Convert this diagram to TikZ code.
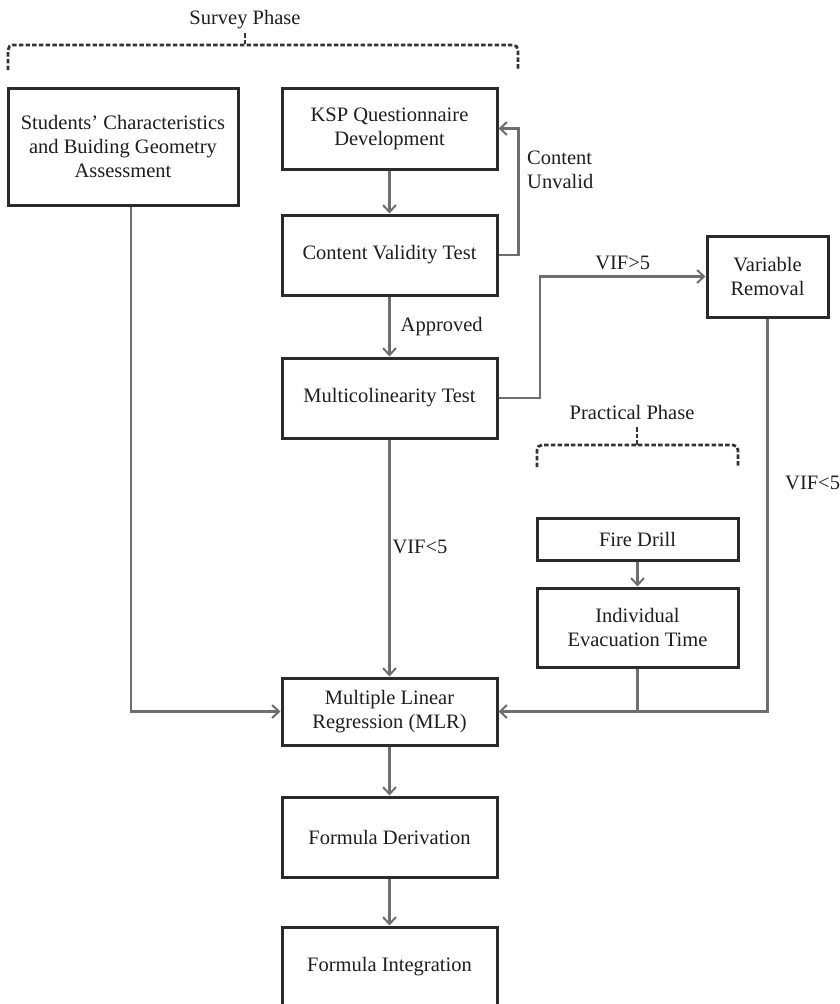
\documentclass[tikz,border=0pt]{standalone}
\usepackage{fontspec}
\setmainfont{Liberation Serif}
\usetikzlibrary{arrows.meta}
\definecolor{boxline}{HTML}{2A2A2A}
\definecolor{connline}{HTML}{6E6E6E}
\definecolor{txt}{HTML}{1E1E1E}
\definecolor{bracecol}{HTML}{333333}
\tikzset{
  box/.style={draw=boxline, line width=3pt, fill=white, text=txt, align=center,
    inner sep=0pt, font=\fontsize{20.5}{24}\selectfont},
  conn/.style={draw=connline, line width=2.4pt},
  arr/.style={conn, -{Straight Barb[length=7pt,width=13pt,line width=2pt]}},
  lbl/.style={text=txt, inner sep=0pt, font=\fontsize{20.5}{24}\selectfont},
  phasebrace/.style={draw=bracecol, line width=2.8pt, dash pattern=on 4.5pt off 2.2pt, rounded corners=5pt}
}
\begin{document}
\begin{tikzpicture}[x=1pt,y=-1pt]
\useasboundingbox (0,0) rectangle (839,1004);
\clip (0,0) rectangle (839,1004);

% boxes
\node[box, minimum width=230pt, minimum height=117pt] (stud) at (123,146.5)
  {Students' Characteristics\\and Buiding Geometry\\Assessment};
\node[box, minimum width=215pt, minimum height=81pt] (ksp) at (389.5,128.5)
  {KSP Questionnaire\\Development};
\node[box, minimum width=215pt, minimum height=80pt] (cvt) at (389.5,255)
  {Content Validity Test};
\node[box, minimum width=215pt, minimum height=80pt] (mct) at (389.5,398)
  {Multicolinearity Test};
\node[box, minimum width=121pt, minimum height=81pt] (varr) at (767.5,276.5)
  {Variable\\Removal};
\node[box, minimum width=201pt, minimum height=42pt] (fire) at (637.5,539)
  {Fire Drill};
\node[box, minimum width=201pt, minimum height=79pt] (iet) at (637.5,627.5)
  {Individual\\Evacuation Time};
\node[box, minimum width=215pt, minimum height=67pt] (mlr) at (389.5,711.5)
  {Multiple Linear\\Regression (MLR)};
\node[box, minimum width=215pt, minimum height=80pt] (fder) at (389.5,837)
  {Formula Derivation};
\node[box, minimum width=215pt, minimum height=80pt] (fint) at (389.5,967)
  {Formula Integration};

% phase labels and braces
\node[lbl] (survey) at (245,20) {Survey Phase};
\draw[phasebrace] (8,70) -- (8,45) -- (518,45) -- (518,70);
\draw[phasebrace, rounded corners=0pt] (245,33) -- (245,45);
\node[lbl] (practical) at (632,412) {Practical Phase};
\draw[phasebrace] (537,467) -- (537,445) -- (738,445) -- (738,467);
\draw[phasebrace, rounded corners=0pt] (637,427) -- (637,445);

% connectors
\draw[arr] (ksp) -- (cvt);
\draw[arr] (cvt.east) -- ++(20,0) |- (ksp.east);
\node[lbl, align=left, anchor=west] (unvalid) at (527,170) {Content\\Unvalid};

\draw[arr] (cvt) -- node[lbl, right=10pt] (approved) {Approved} (mct);

\draw[arr] (mct.east) -- (540,398) |- coordinate[pos=0.75] (vifgt) (varr.west);
\node[lbl] (vifgtlbl) at ([yshift=14pt]vifgt) {VIF>5};

\draw[arr] (mct) -- (mlr);
\node[lbl] (viflt) at (420,547) {VIF<5};

\draw[arr] ([xshift=8pt]stud.south) |- (mlr.west);
\draw[arr] (varr.south) |- (mlr.east);
\draw[conn] (iet.south) -- (iet.south |- mlr.east);
\node[lbl, anchor=west] (viflt2) at (785,483) {VIF<5};

\draw[arr] (fire) -- (iet);
\draw[arr] (mlr) -- (fder);
\draw[arr] (fder) -- (fint);
\end{tikzpicture}
\end{document}
